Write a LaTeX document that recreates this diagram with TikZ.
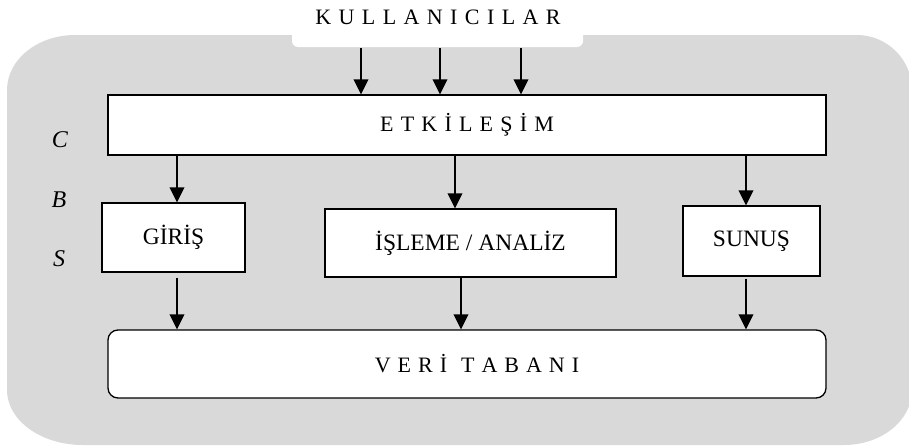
\documentclass[tikz,border=0pt]{standalone}
\usepackage{fontspec}
\setmainfont{Liberation Serif}
\usetikzlibrary{arrows.meta}
\definecolor{graybg}{HTML}{D9D9D9}
\newcommand{\gapL}{\hspace{7.2pt}}
\newcommand{\gapV}{\hspace{7pt}}
\newcommand{\gapK}{\hspace{7.4pt}}
\begin{document}
\begin{tikzpicture}[x=1pt,y=-1pt,
  box/.style={draw=black,line width=1.3pt,fill=white,inner sep=0pt,font=\fontsize{23.5}{28}\selectfont},
  spaced/.style={font=\fontsize{22}{26}\selectfont},
  arr/.style={line width=2pt,-{Triangle[length=15pt,width=14.5pt]}},
  sidelbl/.style={font=\fontsize{24}{28}\selectfont\itshape,inner sep=0pt}]
\useasboundingbox (0,0) rectangle (909,447);
\fill[white] (0,0) rectangle (909,447);
\begin{scope}
\clip (0,0) rectangle (909,447);
\fill[graybg] (7,90) .. controls (7,59.6) and (37.5,35) .. (75,35)
  -- (857,35) .. controls (887,35) and (912,59.6) .. (912,90)
  -- (912,390) .. controls (912,420.4) and (881.5,445) .. (844,445)
  -- (83,445) .. controls (41,445) and (7,420.4) .. (7,390) -- cycle;
\end{scope}
% notch
\fill[white] (292,20) -- (292,41) .. controls (292,44.3) and (294.7,47) .. (298,47)
  -- (577,47) .. controls (580.3,47) and (583,44.3) .. (583,41) -- (583,20) -- cycle;

\node[spaced,inner sep=0pt] (users) at (438,17) {K\gapK U\gapK L\gapK L\gapK A\gapK N\gapK I\gapK C\gapK I\gapK L\gapK A\gapK R};

\node[box,minimum width=718pt,minimum height=60pt,font=\fontsize{22}{26}\selectfont] (etk) at (467,125)
  {E\gapL T\gapL K\gapL İ\gapL L\gapL E\gapL Ş\gapL İ\gapL M\hspace{50pt}};

\node[box,minimum width=143pt,minimum height=69pt] (gir) at (173.5,237.5) {GİRİŞ};
\node[box,minimum width=291pt,minimum height=68pt] (isl) at (470.5,243) {İŞLEME / ANALİZ\hspace{23pt}};
\node[box,minimum width=137pt,minimum height=70pt] (sun) at (751.5,241) {SUNUŞ};

\node[box,rounded corners=10pt,minimum width=718pt,minimum height=68pt,font=\fontsize{22}{26}\selectfont] (veri) at (467,364)
  {\hspace{20pt}V\gapV E\gapV R\gapV İ\gapV\gapV T\gapV A\gapV B\gapV A\gapV N\gapV I};

\node[sidelbl] (c) at (60,140) {C};
\node[sidelbl] (b) at (59,200) {B};
\node[sidelbl] (s) at (59,259) {S};

% user arrows
\coordinate (k1) at (361,48);
\coordinate (k2) at (440,48);
\coordinate (k3) at (521,48);
\draw[arr] (k1) -- (etk.north -| k1);
\draw[arr] (k2) -- (etk.north -| k2);
\draw[arr] (k3) -- (etk.north -| k3);

% etk to modules
\coordinate (xa) at (177,0);
\coordinate (xb) at (455,0);
\coordinate (xc) at (746,0);
\draw[arr] (etk.south -| xa) -- (gir.north -| xa);
\draw[arr] (etk.south -| xb) -- (isl.north -| xb);
\draw[arr] (etk.south -| xc) -- (sun.north -| xc);

% modules to database
\coordinate (ya) at (177,0);
\coordinate (yb) at (461,0);
\coordinate (yc) at (746,0);
\draw[arr,shorten <=5pt] (gir.south -| ya) -- (veri.north -| ya);
\draw[arr] (isl.south -| yb) -- (veri.north -| yb);
\draw[arr,shorten <=2pt] (sun.south -| yc) -- (veri.north -| yc);
\end{tikzpicture}
\end{document}
